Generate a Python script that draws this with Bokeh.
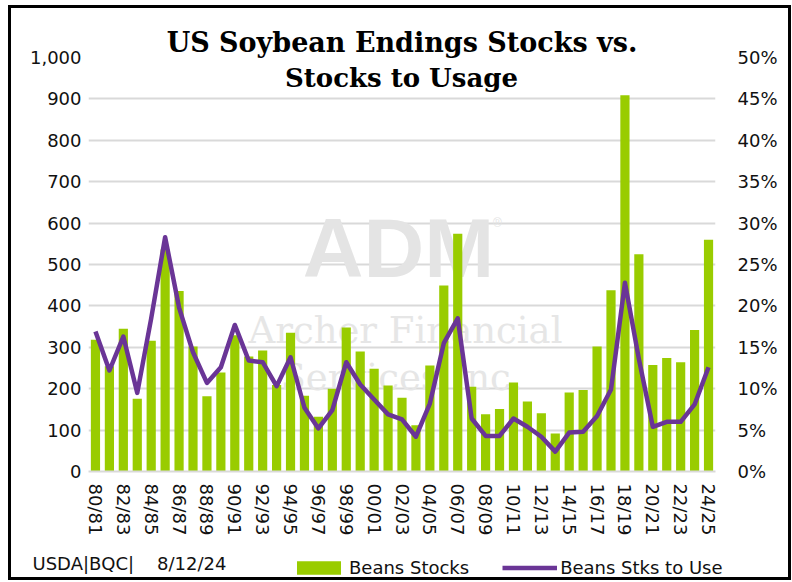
from bokeh.plotting import figure
from bokeh.layouts import column
from bokeh.models import (Range1d, LinearAxis, FixedTicker, PrintfTickFormatter,
                          NumeralTickFormatter, Label, Legend, LegendItem, ColumnDataSource, Title)
from bokeh.embed import file_html
from bokeh.resources import INLINE

# ---- data ----
years = ["80/81", "81/82", "82/83", "83/84", "84/85", "85/86", "86/87", "87/88", "88/89", "89/90",
         "90/91", "91/92", "92/93", "93/94", "94/95", "95/96", "96/97", "97/98", "98/99", "99/00",
         "00/01", "01/02", "02/03", "03/04", "04/05", "05/06", "06/07", "07/08", "08/09", "09/10",
         "10/11", "11/12", "12/13", "13/14", "14/15", "15/16", "16/17", "17/18", "18/19", "19/20",
         "20/21", "21/22", "22/23", "23/24", "24/25"]
stocks = [318, 254, 345, 176, 316, 536, 436, 302, 182, 239,
          329, 278, 292, 209, 335, 183, 132, 200, 348, 290,
          248, 208, 178, 112, 256, 449, 574, 205, 138, 151,
          215, 169, 141, 92, 191, 197, 302, 438, 909, 525,
          257, 274, 264, 342, 560]
stu_pct = [16.9, 12.2, 16.3, 9.5, 18.5, 28.3, 19.8, 14.4, 10.7, 12.6,
           17.7, 13.4, 13.2, 10.3, 13.8, 7.7, 5.2, 7.4, 13.2, 10.5,
           8.7, 6.9, 6.3, 4.2, 8.2, 15.5, 18.5, 6.4, 4.3, 4.3,
           6.4, 5.4, 4.2, 2.4, 4.7, 4.8, 6.7, 9.9, 22.8, 13.6,
           5.4, 6.0, 6.0, 8.1, 12.6]
left_ticks = [0, 100, 200, 300, 400, 500, 600, 700, 800, 900, 1000]
right_ticks = [0, 5, 10, 15, 20, 25, 30, 35, 40, 45, 50]
title_lines = ["US Soybean Endings Stocks vs.", "Stocks to Usage"]
series_names = ["Beans Stocks", "Beans Stks to Use"]
NB = "\u00a0"
source_note = "USDA|BQC|" + NB * 4 + "8/12/24"

GREEN = "#99CC00"
PURPLE = "#6A3596"
GRID = "#D9D9D9"
FONT = "DejaVu Sans"
TXT = "#111111"
BORDER = "3px solid black"
WM = "#E4E4E4"

idx = list(range(len(years)))
src = ColumnDataSource(dict(x=idx, year=years, stocks=stocks, stu=stu_pct))

# ---------------- main chart ----------------
p = figure(width=783, height=543, output_backend="svg", toolbar_location=None,
           x_range=Range1d(-0.5, len(years) - 0.5), y_range=Range1d(0, 1000),
           min_border_left=77, min_border_right=79, min_border_top=49, min_border_bottom=80)
p.extra_y_ranges = {"pct": Range1d(0, 50)}
p.outline_line_color = None
p.background_fill_color = "white"
p.border_fill_color = "white"
p.styles = {"border-top": BORDER, "border-left": BORDER, "border-right": BORDER}

p.title = Title(text=title_lines[0], align="center", text_font="DejaVu Serif",
                text_font_style="bold", text_font_size="27px", text_color="black", standoff=0)

# watermark
p.add_layout(Label(x=310, y=224, x_units="screen", y_units="screen", text="ADM",
                   text_font="Liberation Sans", text_font_style="bold", text_font_size="84px",
                   text_color=WM, text_align="center", text_baseline="middle", level="underlay"))
p.add_layout(Label(x=409, y=249, x_units="screen", y_units="screen", text="\u00ae",
                   text_font="Liberation Sans", text_font_size="12px",
                   text_color=WM, text_align="center", text_baseline="middle", level="underlay"))
p.add_layout(Label(x=317, y=141, x_units="screen", y_units="screen", text="Archer Financial",
                   text_font="DejaVu Serif", text_font_size="37px",
                   text_color="#E6E6E6", text_align="center", text_baseline="middle", level="underlay"))
p.add_layout(Label(x=313, y=94, x_units="screen", y_units="screen", text="Services Inc.",
                   text_font="DejaVu Serif", text_font_size="37px",
                   text_color="#E6E6E6", text_align="center", text_baseline="middle", level="underlay"))

bars = p.vbar(x="x", top="stocks", width=0.66, source=src, fill_color=GREEN, line_color=None)
line = p.line(x="x", y="stu", source=src, y_range_name="pct", line_color=PURPLE,
              line_width=4.5, line_join="round")

p.yaxis.ticker = FixedTicker(ticks=left_ticks)
p.yaxis.formatter = NumeralTickFormatter(format="0,0")
ax_r = LinearAxis(y_range_name="pct", ticker=FixedTicker(ticks=right_ticks),
                  formatter=PrintfTickFormatter(format="%d%%"))
p.add_layout(ax_r, "right")

for ax in [p.yaxis[0], ax_r, p.xaxis[0]]:
    ax.major_tick_line_color = None
    ax.minor_tick_line_color = None
    ax.major_tick_out = 0
    ax.major_tick_in = 0
    ax.minor_tick_out = 0
    ax.major_label_text_font = FONT
    ax.major_label_text_font_size = "18px"
    ax.major_label_text_color = TXT
p.yaxis[0].axis_line_color = None
ax_r.axis_line_color = None
p.yaxis[0].major_label_standoff = 7
ax_r.major_label_standoff = 22

xa = p.xaxis[0]
xa.ticker = FixedTicker(ticks=idx[::2])
xa.major_label_overrides = {i: years[i] for i in idx[::2]}
xa.major_label_orientation = "vertical"
xa.axis_line_color = GRID
xa.axis_line_width = 2
xa.major_label_standoff = 12

p.xgrid.visible = False
p.ygrid.ticker = FixedTicker(ticks=left_ticks)
p.ygrid.grid_line_color = GRID
p.ygrid.grid_line_width = 2

p.add_layout(Label(x=313, y=394, x_units="screen", y_units="screen", text=title_lines[1],
                   text_font="DejaVu Serif", text_font_style="bold", text_font_size="26px",
                   text_color="black", text_align="center", text_baseline="middle"))

# ---------------- footer (legend + source note) ----------------
pf = figure(width=783, height=32, output_backend="svg", toolbar_location=None,
            x_range=Range1d(0, 1), y_range=Range1d(0, 1),
            x_axis_location=None, y_axis_location=None, min_border=0)
pf.outline_line_color = None
pf.grid.visible = False
pf.border_fill_color = "white"
pf.styles = {"border-bottom": BORDER, "border-left": BORDER, "border-right": BORDER}
for fig in (p, pf):
    try:
        fig.frame_align = False
    except Exception:
        pass

key_bar = pf.vbar(x="x", top="stocks", width=0.66, source=src, fill_color=GREEN,
                  line_color=None, visible=False)
key_line = pf.line(x="x", y="stu", source=src, line_color=PURPLE, line_width=4.5, visible=False)

legend = Legend(items=[LegendItem(label=series_names[0], renderers=[key_bar]),
                       LegendItem(label=series_names[1], renderers=[key_line])],
                location=(280, 2), orientation="horizontal",
                glyph_width=55, glyph_height=17, label_standoff=3, spacing=33,
                padding=0, margin=0, border_line_color=None, background_fill_alpha=0,
                inactive_fill_alpha=0,
                label_text_font=FONT, label_text_font_size="18px", label_text_color=TXT)
pf.add_layout(legend)
pf.add_layout(Label(x=21, y=17, x_units="screen", y_units="screen", text=source_note,
                    text_font=FONT, text_font_size="18px", text_color=TXT,
                    text_align="left", text_baseline="middle"))

layout = column(p, pf, spacing=0, styles={"margin-left": "8px", "margin-top": "5px"})

open("out.html", "w").write(file_html(layout, INLINE))
